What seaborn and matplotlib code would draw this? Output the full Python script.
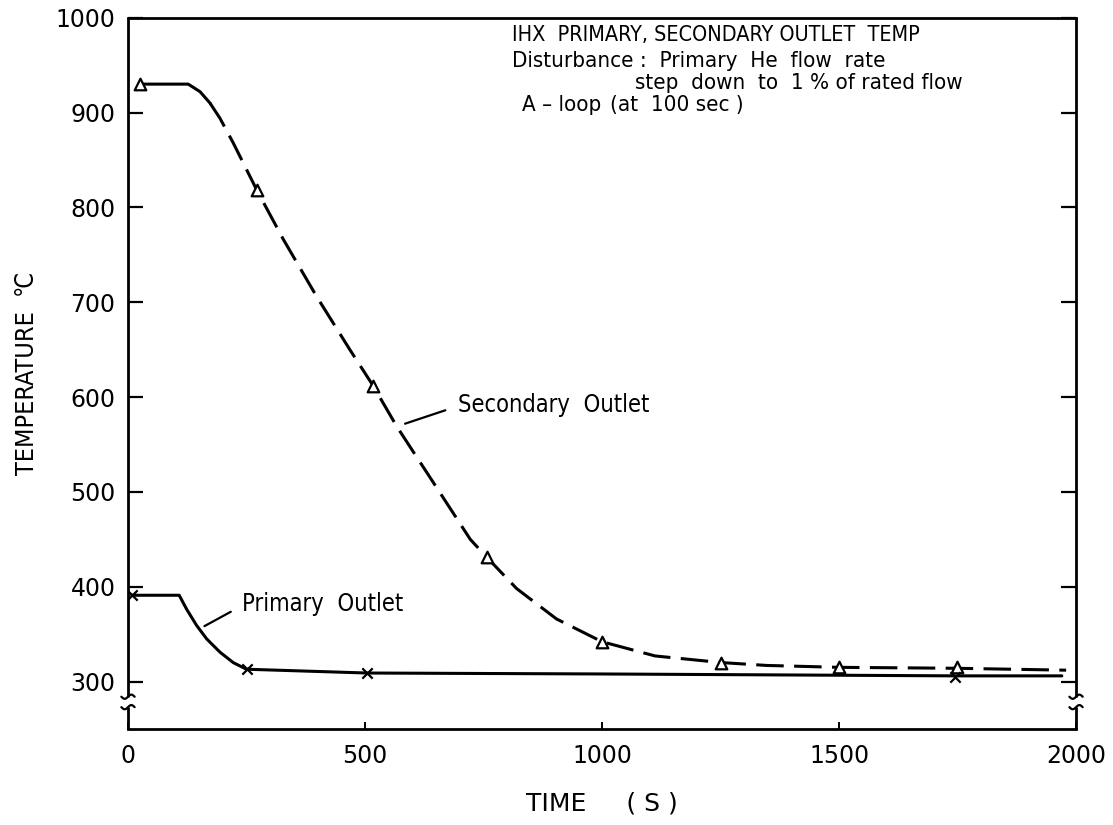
import numpy as np
import pandas as pd
import matplotlib
matplotlib.use("Agg")
import matplotlib.pyplot as plt
import seaborn as sns
from matplotlib.transforms import blended_transform_factory

# Secondary outlet temperature (deg C) against time (s)
sec_time = [25, 127, 152, 173, 194, 222, 272, 328, 398, 468, 517, 567, 644,
            722, 757, 820, 904, 968, 1000, 1112, 1252, 1347, 1499, 1748, 1979]
sec_temp = [930, 930, 922, 910, 894, 868, 818, 766, 706, 650, 612, 569, 510,
            450, 431, 398, 366, 350, 342, 327, 320, 317, 315, 314, 312]
sec_mark_time = [25, 272, 517, 757, 1000, 1252, 1499, 1748]
sec_mark_temp = [930, 818, 612, 431, 342, 320, 315, 315]

# Primary outlet temperature (deg C) against time (s)
pri_time = [8, 108, 124, 145, 166, 194, 222, 250, 504, 1000, 1745, 1970]
pri_temp = [391, 391, 376, 359, 345, 331, 320, 313, 309, 308, 306, 306]
pri_mark_time = [8, 250, 504, 1745]
pri_mark_temp = [391, 313, 309, 305]

x_ticks = [0, 500, 1000, 1500, 2000]
y_ticks = [300, 400, 500, 600, 700, 800, 900, 1000]

sns.set_style("white")
plt.rcParams["font.family"] = ["DejaVu Sans"]
plt.rcParams.update({"text.color": "black", "axes.labelcolor": "black",
                     "xtick.color": "black", "ytick.color": "black"})
label_font = ["DejaVu Sans"]

fig = plt.figure(figsize=(11.13, 8.25), dpi=100)
ax = fig.add_axes([0.115, 0.1164, 0.8518, 0.8621])

sec = pd.DataFrame({"time": sec_time, "temp": sec_temp})
pri = pd.DataFrame({"time": pri_time, "temp": pri_temp})

# secondary: solid while flat, long dashes during the decay
sns.lineplot(data=sec[sec.time <= 180], x="time", y="temp", color="black",
             lw=2.2, sort=False, estimator=None, ax=ax)
sns.lineplot(data=sec[sec.time >= 173], x="time", y="temp", color="black",
             lw=2.2, sort=False, estimator=None, ax=ax,
             linestyle=(0, (9, 3.4)))
sns.lineplot(data=pri, x="time", y="temp", color="black", lw=2.2,
             sort=False, estimator=None, ax=ax)

sns.scatterplot(x=sec_mark_time, y=sec_mark_temp, marker="^", s=70,
                color="white", edgecolor="black", linewidth=1.6, zorder=5,
                ax=ax)
sns.scatterplot(x=pri_mark_time, y=pri_mark_temp, marker="x", s=55,
                color="black", linewidth=1.6, zorder=5, ax=ax)

ax.set_xlim(0, 2000)
ax.set_ylim(250, 1000)
ax.set_xticks(x_ticks)
ax.set_yticks(y_ticks)
ax.tick_params(axis="y", direction="in", length=11, width=1.6,
               labelsize=17, pad=9, left=True, right=True,
               colors="black")
ax.tick_params(axis="x", direction="in", length=5, width=1.4,
               labelsize=17, pad=11, bottom=True, top=False,
               colors="black")

ax.set_xlabel("TIME     ( S )", fontsize=18, labelpad=17, family=label_font,
              color="black")
ax.set_ylabel("TEMPERATURE  \u2103", fontsize=18, labelpad=12,
              family=label_font, fontstretch="condensed", color="black")

# frame with broken vertical spines near the bottom
for side in ["left", "right"]:
    ax.spines[side].set_visible(False)
for side in ["top", "bottom"]:
    ax.spines[side].set_linewidth(2.0)
    ax.spines[side].set_color("black")

tr = blended_transform_factory(ax.transAxes, ax.transData)
brk_hi, brk_lo = 284, 273
for xs in (0.0, 1.0):
    ax.plot([xs, xs], [brk_hi, 1000], color="black", lw=2.0, transform=tr,
            clip_on=False, solid_capstyle="butt")
    ax.plot([xs, xs], [250, brk_lo], color="black", lw=2.0, transform=tr,
            clip_on=False, solid_capstyle="butt")
    u = np.linspace(-1, 1, 30)
    for yb in (brk_hi, brk_lo):
        ax.plot(xs + 0.007 * u, yb + 2.2 * np.sin(np.pi * u), color="black",
                lw=1.6, transform=tr, clip_on=False)

# annotation block
txt = dict(fontsize=16, family=label_font, fontstretch="condensed",
           color="black", va="center")
ax.text(810, 982, "IHX  PRIMARY, SECONDARY OUTLET  TEMP", fontsize=15.5,
        **{k: v for k, v in txt.items() if k != "fontsize"})
ax.text(810, 954, "Disturbance :  Primary  He  flow  rate", **txt)
ax.text(1070, 931, "step  down  to  1 % of rated flow", **txt)
ax.text(831, 908, "A \u2013 loop", **txt)
ax.text(1017, 908, "(at  100 sec )", **txt)

# curve labels with leader lines
lbl = dict(txt, fontsize=17)
ax.text(696, 592, "Secondary  Outlet", **lbl)
ax.annotate("", xy=(579, 571), xytext=(675, 587),
            arrowprops=dict(arrowstyle="-", color="black", lw=1.6))
ax.text(240, 382, "Primary  Outlet", **lbl)
ax.annotate("", xy=(156, 357), xytext=(222, 375),
            arrowprops=dict(arrowstyle="-", color="black", lw=1.6))

fig.savefig("out.png", dpi=100)
